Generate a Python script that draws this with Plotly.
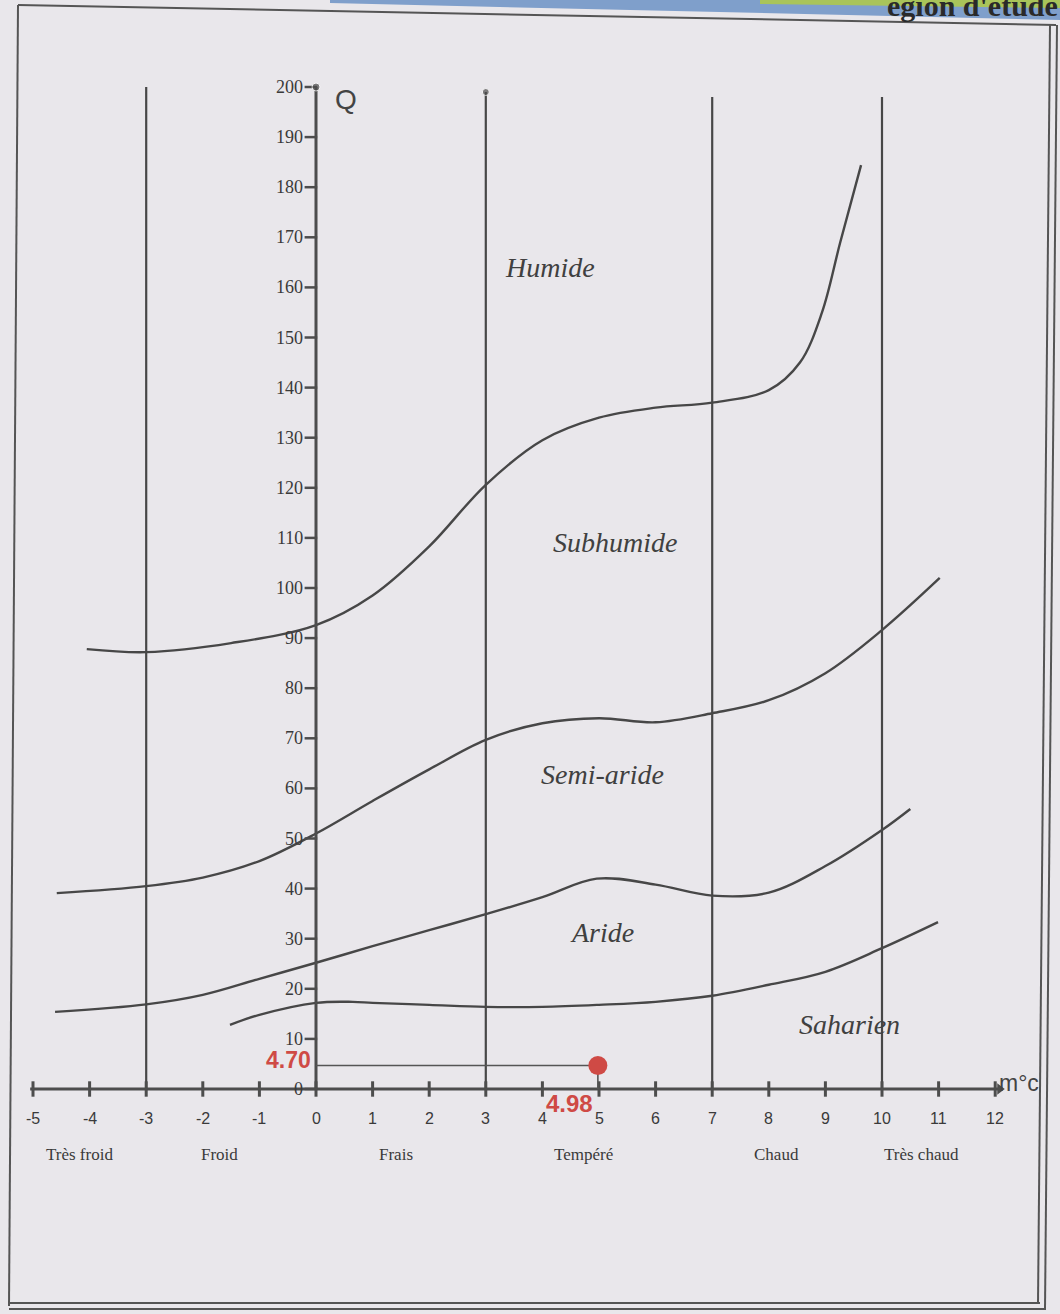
import plotly.graph_objects as go

# ---------------- data ----------------
x_ticks = list(range(-5, 13))
q_ticks = list(range(0, 201, 10))

zone_bounds = [-3, 3, 7, 10]
zone_tops = [200, 199, 198, 198]
zone_names = ["Très froid", "Froid", "Frais", "Tempéré", "Chaud", "Très chaud"]
zone_name_x = [-4.17, -1.70, 1.41, 4.72, 8.14, 10.69]

humide_x = [-4.05, -3, -1.5, 0, 1, 2, 3, 4, 5, 6, 7, 8, 8.55, 8.94, 9.26, 9.63]
humide_q = [87.8, 87.2, 89.0, 92.6, 98.5, 108.3, 120.6, 129.5, 134.0, 136.0, 137.0, 139.5, 145.0, 155.0, 168.9, 184.4]

subhum_x = [-4.58, -3, -2, -1, 0, 1, 2, 3, 4, 5, 6, 7, 8, 9, 10, 11.02]
subhum_q = [39.1, 40.5, 42.2, 45.5, 51.0, 57.5, 63.8, 69.7, 73.0, 74.0, 73.2, 75.0, 77.6, 83.0, 91.6, 102.0]

semiar_x = [-4.61, -3, -2, -1, 0, 1, 2, 3, 4, 4.96, 6, 7, 8, 9, 10, 10.5]
semiar_q = [15.4, 16.9, 18.8, 22.0, 25.2, 28.5, 31.7, 34.9, 38.3, 42.0, 40.8, 38.6, 39.2, 44.5, 51.7, 55.9]

aride_x = [-1.52, -1, 0, 0.65, 1, 2, 3, 4, 5, 6, 7, 8, 9, 10, 10.99]
aride_q = [12.8, 14.8, 17.2, 17.4, 17.2, 16.8, 16.4, 16.4, 16.8, 17.4, 18.6, 20.8, 23.4, 28.1, 33.3]

region_names = ["Humide", "Subhumide", "Semi-aride", "Aride", "Saharien"]
region_x = [4.13, 5.28, 5.07, 5.05, 9.43]
region_q = [163.9, 109.0, 62.7, 31.3, 12.8]

site_m = 4.98
site_q = 4.70

# ---------------- styling / geometry ----------------
W, H = 1060, 1314
PX_PER_X = 56.6
PX_PER_Q = 5.01
X0_PX = 316
Q0_PX = 1089
x_range = [(0 - X0_PX) / PX_PER_X, (W - X0_PX) / PX_PER_X]
q_range = [(Q0_PX - H) / PX_PER_Q, Q0_PX / PX_PER_Q]

BG = "#e9e7eb"
INK = "#474747"
TXT = "#3a3a3a"
RED = "#cf4a45"
SERIF = "Liberation Serif, Times New Roman, serif"
SANS = "Liberation Sans, Arial, sans-serif"

fig = go.Figure()

def line(xs, ys, width=2.2, color=INK, shape="linear"):
    fig.add_trace(go.Scatter(x=xs, y=ys, mode="lines", hoverinfo="skip",
                             line=dict(color=color, width=width, shape=shape),
                             showlegend=False))

# zone boundary verticals
for xb, top in zip(zone_bounds, zone_tops):
    line([xb, xb], [0, top], width=2.2)

# climate curves
for xs, qs in [(humide_x, humide_q), (subhum_x, subhum_q),
               (semiar_x, semiar_q), (aride_x, aride_q)]:
    line(xs, qs, width=2.4, shape="spline")

# axes
line([x_ticks[0] - 0.05, x_ticks[-1] + 0.05], [0, 0], width=3, color="#4d4d4d")
line([0, 0], [0, q_ticks[-1]], width=3, color="#4d4d4d")

# x tick marks
fig.add_trace(go.Scatter(x=x_ticks, y=[0] * len(x_ticks), mode="markers", hoverinfo="skip",
                         marker=dict(symbol="line-ns", size=11, line=dict(color="#4d4d4d", width=3)),
                         showlegend=False))
# arrow head of x axis
fig.add_trace(go.Scatter(x=[x_ticks[-1] + 0.08], y=[0], mode="markers", hoverinfo="skip",
                         marker=dict(symbol="triangle-right", size=10, color="#4d4d4d"),
                         showlegend=False))
# y tick marks
fig.add_trace(go.Scatter(x=[-0.09] * len(q_ticks), y=q_ticks, mode="markers", hoverinfo="skip",
                         marker=dict(symbol="line-ew", size=9, line=dict(color="#4d4d4d", width=2.5)),
                         showlegend=False))
# dots at tops of Q axis and x=3 line
fig.add_trace(go.Scatter(x=[0, zone_bounds[1]], y=[q_ticks[-1], zone_tops[1]], mode="markers",
                         hoverinfo="skip", marker=dict(size=[8, 7], color="#4d4d4d"),
                         showlegend=False))

# site reference lines + point
line([0, site_m], [site_q, site_q], width=1.6, color="#555555")
line([site_m, site_m], [site_q, 0], width=1.6, color="#555555")
fig.add_trace(go.Scatter(x=[site_m], y=[site_q], mode="markers", hoverinfo="skip",
                         marker=dict(size=19, color=RED), showlegend=False))

ann = []
# x tick labels
for v in x_ticks:
    ann.append(dict(x=v, y=-5.8, text=str(v), showarrow=False, xanchor="center", yanchor="middle",
                    font=dict(family=SANS, size=16, color=TXT)))
# y tick labels
for v in q_ticks:
    ann.append(dict(x=-0.2, y=v, text=str(v), showarrow=False, xanchor="right", yanchor="middle",
                    font=dict(family=SERIF, size=18, color=TXT)))
# zone names
for nm, zx in zip(zone_names, zone_name_x):
    ann.append(dict(x=zx, y=-13.0, text=nm, showarrow=False, xanchor="center", yanchor="middle",
                    font=dict(family=SERIF, size=17, color=TXT)))
# region names
for nm, rx, rq in zip(region_names, region_x, region_q):
    ann.append(dict(x=rx, y=rq, text=f"<i>{nm}</i>", showarrow=False, xanchor="center", yanchor="middle",
                    font=dict(family=SERIF, size=28, color="#404040")))
# axis titles
ann.append(dict(x=0.53, y=197.6, text="Q", showarrow=False, xanchor="center", yanchor="middle",
                font=dict(family=SANS, size=28, color="#444444")))
ann.append(dict(x=12.03, y=1.2, text="m°c", showarrow=False, xanchor="left", yanchor="middle",
                font=dict(family=SANS, size=23, color="#444444")))
# site labels
ann.append(dict(x=-0.05, y=site_q, yshift=5, text="<b>4.70</b>", showarrow=False, xanchor="right",
                yanchor="middle", font=dict(family=SANS, size=23, color=RED)))
ann.append(dict(x=site_m - 0.05, y=-2.9, text="<b>4.98</b>", showarrow=False, xanchor="right",
                yanchor="middle", font=dict(family=SANS, size=24, color=RED)))
# page header fragment (cut at top of scan)
ann.append(dict(xref="paper", yref="paper", x=1.0, y=1 - 24 / H, text="<b>égion d'étude</b>",
                showarrow=False, xanchor="right", yanchor="bottom",
                font=dict(family=SERIF, size=30, color="#2a2a2a")))

def px(xp):
    return xp / W

def py(yp):
    return 1 - yp / H

shapes = [
    # blue band at top
    dict(type="path", xref="paper", yref="paper", layer="below",
         path=f"M {px(330)},{py(0)} L {px(1060)},{py(0)} L {px(1060)},{py(20)} L {px(330)},{py(3)} Z",
         fillcolor="#7f9fcb", line=dict(width=0)),
    dict(type="path", xref="paper", yref="paper", layer="below",
         path=f"M {px(760)},{py(0)} L {px(1060)},{py(0)} L {px(1060)},{py(8)} L {px(760)},{py(4)} Z",
         fillcolor="#a9c45a", line=dict(width=0)),
    # frame
    dict(type="line", xref="paper", yref="paper", x0=px(18), y0=py(5), x1=px(1056), y1=py(25),
         line=dict(color="#555555", width=2)),
    dict(type="line", xref="paper", yref="paper", x0=px(18), y0=py(5), x1=px(9), y1=py(1306),
         line=dict(color="#555555", width=2)),
    dict(type="line", xref="paper", yref="paper", x0=px(9), y0=py(1303), x1=px(1040), y1=py(1303),
         line=dict(color="#555555", width=2)),
    dict(type="line", xref="paper", yref="paper", x0=px(9), y0=py(1309), x1=px(1046), y1=py(1309),
         line=dict(color="#555555", width=2)),
    dict(type="line", xref="paper", yref="paper", x0=px(1050), y0=py(25), x1=px(1038), y1=py(1303),
         line=dict(color="#555555", width=2)),
    dict(type="line", xref="paper", yref="paper", x0=px(1057), y0=py(25), x1=px(1045), y1=py(1309),
         line=dict(color="#555555", width=2)),
]

fig.update_layout(
    width=W, height=H,
    margin=dict(l=0, r=0, t=0, b=0),
    paper_bgcolor=BG, plot_bgcolor=BG,
    xaxis=dict(range=x_range, visible=False, fixedrange=True),
    yaxis=dict(range=q_range, visible=False, fixedrange=True),
    annotations=ann, shapes=shapes, showlegend=False,
)

fig.write_html("out.html", config={"displayModeBar": False},
               post_script="document.body.style.margin='0px';document.body.style.background='#e9e7eb';")
